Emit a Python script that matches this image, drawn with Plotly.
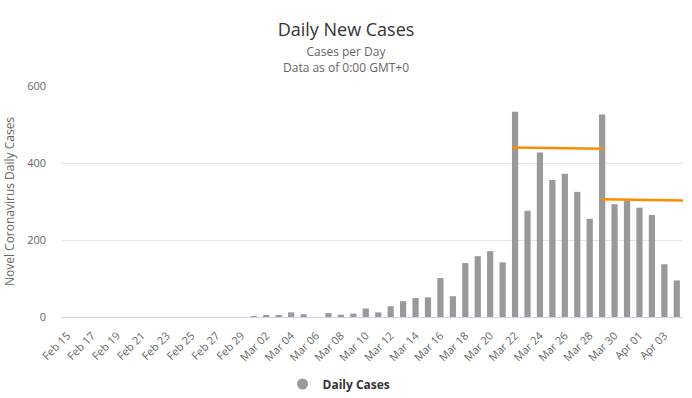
import plotly.graph_objects as go
import pandas as pd

dates = pd.date_range("2020-02-15", "2020-04-04", freq="D").strftime("%Y-%m-%d").tolist()
daily_cases = [0] * 15 + [
    2, 3, 3, 12, 7, 0, 10, 6, 9, 22,
    12, 28, 41, 49, 51, 101, 54, 140, 158, 171,
    142, 533, 276, 427, 356, 372, 325, 255, 526, 293,
    302, 284, 265, 137, 95,
]

trend1_x = ["2020-03-21 18:00", "2020-03-29 04:00"]
trend1_y = [440, 437]
trend2_x = ["2020-03-29 00:00", "2020-04-05 05:00"]
trend2_y = [306, 302]

FONT = "Open Sans, DejaVu Sans, sans-serif"
W, H = 692, 398
L, R, T, B = 61, 9, 86, 81
PH = H - T - B
PW = W - L - R


def paper_y(py):
    return (H - B - py) / PH


def paper_x(px):
    return (px - L) / PW


fig = go.Figure()
fig.add_trace(go.Bar(
    x=dates, y=daily_cases, name="Daily Cases", showlegend=False,
    marker=dict(color="#999999", line=dict(width=0)),
))
fig.add_trace(go.Scatter(
    x=[None], y=[None], mode="markers", name="<b>Daily Cases</b>",
    marker=dict(color="#999999", size=11, symbol="circle"),
))
for tx, ty in [(trend1_x, trend1_y), (trend2_x, trend2_y)]:
    fig.add_trace(go.Scatter(
        x=tx, y=ty, mode="lines", showlegend=False,
        line=dict(color="#FF8C00", width=2.5), hoverinfo="skip",
    ))

fig.update_layout(
    width=W, height=H,
    margin=dict(l=L, r=R, t=T, b=B, autoexpand=False),
    paper_bgcolor="white", plot_bgcolor="white",
    font=dict(family=FONT, color="#666666", size=11),
    bargap=0.5,
    showlegend=True,
    legend=dict(orientation="h", x=(W / 2 - 7) / W, xanchor="center", xref="container",
                y=1 - 384 / H, yanchor="middle", yref="container",
                itemwidth=30,
                font=dict(size=12, color="#333333", family=FONT)),
    title=dict(
        text="Daily New Cases",
        x=0.5, xanchor="center", xref="container",
        y=1 - 30 / H, yanchor="middle", yref="container",
        font=dict(size=18, color="#333333", family=FONT),
    ),
    annotations=[
        dict(text="Cases per Day<br>Data as of 0:00 GMT+0", x=paper_x(W / 2), y=paper_y(59.5),
             xref="paper", yref="paper",
             showarrow=False, xanchor="center", yanchor="middle",
             font=dict(size=12, color="#666666")),
    ],
    xaxis=dict(
        type="date",
        range=["2020-02-14 12:00", "2020-04-04 12:00"],
        tick0="2020-02-15", dtick=2 * 86400000,
        tickformat="%b %d", tickangle=-45,
        showgrid=False, showline=True, linecolor="#ccd6eb", linewidth=1,
        ticks="", ticklabelstandoff=7, tickfont=dict(size=11, color="#666666"),
    ),
    yaxis=dict(
        range=[0, 600], dtick=200,
        showgrid=True, gridcolor="#e6e6e6", zeroline=False,
        tickfont=dict(size=11, color="#666666"),
        ticklabelstandoff=14,
        title=dict(text="Novel Coronavirus Daily Cases", font=dict(size=12, color="#666666"), standoff=9),
    ),
)

fig.write_html("out.html", post_script="document.body.style.margin='0px';",
               config={"displayModeBar": False})
